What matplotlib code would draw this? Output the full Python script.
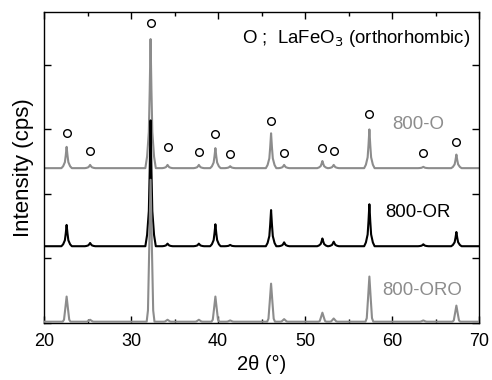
import numpy as np
import matplotlib
matplotlib.use("Agg")
import matplotlib.pyplot as plt

plt.rcParams['font.family'] = ['Liberation Sans', 'DejaVu Sans']

# peak positions (2theta, deg) shared by all three patterns
peak_pos = [22.6, 25.3, 32.25, 34.2, 37.8, 39.7, 41.4, 46.1, 47.6, 52.0, 53.3, 57.4, 63.6, 67.4]

# peak heights above each baseline (arbitrary units, 1 unit = one y tick)
h_800_o   = [0.33, 0.05, 2.00, 0.05, 0.05, 0.31, 0.03, 0.54, 0.05, 0.11, 0.05, 0.60, 0.02, 0.21]
h_800_or  = [0.33, 0.05, 1.95, 0.04, 0.04, 0.34, 0.02, 0.56, 0.06, 0.12, 0.07, 0.65, 0.03, 0.22]
h_800_oro = [0.39, 0.03, 2.20, 0.03, 0.03, 0.39, 0.02, 0.59, 0.04, 0.14, 0.05, 0.70, 0.02, 0.25]

base_o, base_or, base_oro = 2.40, 1.19, 0.02

# LaFeO3 markers (open circles)
circ_x = peak_pos
circ_y = [2.95, 2.67, 4.65, 2.73, 2.65, 2.93, 2.62, 3.13, 2.64, 2.71, 2.67, 3.24, 2.64, 2.81]

# peak outline templates (offset in deg, fraction of peak height)
sharp_dx = [-0.6, -0.4, -0.2, -0.1, 0.0, 0.1, 0.2, 0.4, 0.6]
sharp_fr = [0.0, 0.09, 0.28, 0.6, 1.0, 0.6, 0.28, 0.09, 0.0]
gauss_dx = [-0.45, -0.3, -0.16, 0.0, 0.16, 0.3, 0.45]
gauss_fr = [0.0, 0.08, 0.5, 1.0, 0.5, 0.08, 0.0]


def pattern(heights, base, dx, fr):
    xs, ys = [20.0], [base]
    for p, h in zip(peak_pos, heights):
        for d, f in zip(dx, fr):
            xs.append(p + d)
            ys.append(base + f * h)
    xs.append(70.0)
    ys.append(base)
    return xs, ys


grey = '#8c8c8c'
fig = plt.figure(figsize=(4.92, 3.80), dpi=100)
ax = fig.add_axes([44 / 492, 1 - 323 / 380, 435 / 492, 311 / 380])

x, y = pattern(h_800_o, base_o, sharp_dx, sharp_fr)
ax.plot(x, y, color=grey, lw=1.5, zorder=1)
x, y = pattern(h_800_or, base_or, sharp_dx, sharp_fr)
ax.plot(x, y, color='black', lw=1.5, zorder=2)
x, y = pattern(h_800_oro, base_oro, gauss_dx, gauss_fr)
ax.plot(x, y, color=grey, lw=1.5, zorder=3)

ax.plot(circ_x, circ_y, 'o', ms=5.5, mfc='white', mec='black', mew=1.0, zorder=4)

ax.text(0.98, 0.915, 'O ;  LaFeO$_3$ (orthorhombic)', transform=ax.transAxes,
        ha='right', va='center', fontsize=13.4)
ax.text(0.86, 0.637, '800-O', transform=ax.transAxes, ha='center', va='center',
        fontsize=13.4, color=grey)
ax.text(0.86, 0.354, '800-OR', transform=ax.transAxes, ha='center', va='center',
        fontsize=13.4, color='black')
ax.text(0.87, 0.106, '800-ORO', transform=ax.transAxes, ha='center', va='center',
        fontsize=13.4, color=grey)

ax.set_xlim(20, 70)
ax.set_ylim(0, 4.82)
ax.set_xticks([20, 30, 40, 50, 60, 70])
ax.set_xticks([25, 35, 45, 55, 65], minor=True)
ax.set_yticks([0, 1, 2, 3, 4])
ax.set_yticklabels([])
ax.tick_params(which='both', direction='in', top=True, right=True, width=1)
ax.tick_params(which='major', length=5, labelsize=13, pad=7)
ax.tick_params(which='minor', length=3)
for s in ax.spines.values():
    s.set_linewidth(1.0)

ax.set_xlabel('2θ (°)', fontsize=14.5, labelpad=4)
ax.set_ylabel('Intensity (cps)', fontsize=16, labelpad=0)

fig.savefig('out.png', dpi=100)
